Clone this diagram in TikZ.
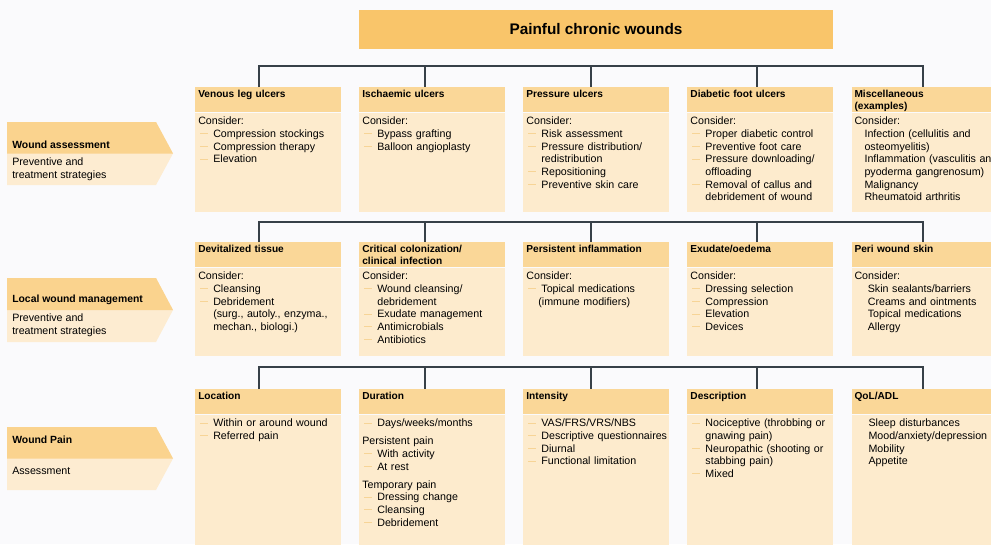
\documentclass[tikz,border=0pt]{standalone}
\usepackage{fontspec}
\setmainfont{Liberation Sans}
\usetikzlibrary{positioning}
\definecolor{titlec}{RGB}{249,197,106}
\definecolor{headc}{RGB}{250,215,152}
\definecolor{bodyc}{RGB}{253,235,205}
\definecolor{arrhead}{RGB}{250,211,142}
\definecolor{arrbody}{RGB}{253,236,209}
\definecolor{linec}{RGB}{55,64,72}
\definecolor{dashc}{RGB}{247,212,150}
\definecolor{bgc}{RGB}{250,250,252}
\newcommand{\witem}[1]{\makebox[11.25pt][l]{\hspace{1.5pt}\textcolor{dashc}{\rule[2.4pt]{6pt}{0.6pt}}}\mbox{#1}}
\newcommand{\wcont}[1]{\hspace*{11.25pt}\mbox{#1}}

\begin{document}
\begin{tikzpicture}[x=0.75pt,y=-0.75pt]
 \tikzset{
   ttl/.style={fill=titlec, minimum width=355.5pt, minimum height=29.25pt,
               inner sep=0pt, font=\bfseries\fontsize{11.5}{13}\selectfont},
   hd/.style={fill=headc, inner xsep=2.25pt, inner ysep=1.5pt, text width=105pt,
              text height=6pt, text depth=9.75pt, align=left,
              font=\bfseries\fontsize{7.6}{8.8}\selectfont},
   bd/.style={fill=bodyc, inner xsep=2.25pt, inner ysep=2pt, text width=105pt,
              text height=7pt, text depth=#1, align=left,
              font=\fontsize{8}{9.5}\selectfont},
   conn/.style={draw=linec, line width=1.2pt},
   arrtitle/.style={anchor=west, inner sep=0pt, font=\bfseries\fontsize{7.8}{9}\selectfont},
   arrtext/.style={anchor=north west, inner sep=0pt, align=left,
                   font=\fontsize{8}{9.75}\selectfont}
 }
 \useasboundingbox (0,0) rectangle (991,544);
 \fill[bgc] (0,0) rectangle (991,544);

 % title
 \node[ttl] (pcw) at (596,29.5) {Painful chronic wounds};

 % left arrows
 \foreach \yt/\yb in {122/185, 278/342, 427/490} {
   \fill[arrbody] (7,\yt) -- (156,\yt) -- (173,{(\yt+\yb)/2}) -- (156,\yb) -- (7,\yb) -- cycle;
   \fill[arrhead] (7,\yt) -- (156,\yt) -- (173,{(\yt+\yb)/2}) -- (7,{(\yt+\yb)/2}) -- cycle;
 }
 \node[arrtitle] (wass) at (12,145) {Wound assessment};
 \node[arrtext] (wasst) at (12,157.7) {Preventive and\\treatment strategies};
 \node[arrtitle] (lwm) at (12,300) {Local wound management};
 \node[arrtext] (lwmt) at (12,313.7) {Preventive and\\treatment strategies};
 \node[arrtitle] (wpn) at (12,440) {Wound Pain};
 \node[arrtext] (wpnt) at (12,466.7) {Assessment};

 % row 1: wound assessment
 \node[hd, anchor=north west] (vlu) at (195,87) {Venous leg ulcers};
 \node[hd, right=13.15pt of vlu] (isu) {Ischaemic ulcers};
 \node[hd, right=13.15pt of isu] (pru) {Pressure ulcers};
 \node[hd, right=13.15pt of pru] (dfu) {Diabetic foot ulcers};
 \node[hd, right=13.15pt of dfu] (msc) {Miscellaneous\\(examples)};
 \node[bd=63.25pt, below=0pt of vlu] (vlub) {Consider:\\
   \witem{Compression stockings}\\ \witem{Compression therapy}\\ \witem{Elevation}};
 \node[bd=63.25pt, below=0pt of isu] (isub) {Consider:\\
   \witem{Bypass grafting}\\ \witem{Balloon angioplasty}};
 \node[bd=63.25pt, below=0pt of pru] (prub) {Consider:\\
   \witem{Risk assessment}\\ \witem{Pressure distribution/}\\ \wcont{redistribution}\\
   \witem{Repositioning}\\ \witem{Preventive skin care}};
 \node[bd=63.25pt, below=0pt of dfu] (dfub) {Consider:\\
   \witem{Proper diabetic control}\\ \witem{Preventive foot care}\\
   \witem{Pressure downloading/}\\ \wcont{offloading}\\
   \witem{Removal of callus and}\\ \wcont{debridement of wound}};
 \node[bd=63.25pt, text width=125pt, below=0pt of msc.south west, anchor=north west] (mscb) {Consider:\\
   \hspace*{7.5pt}Infection (cellulitis and\\ \hspace*{7.5pt}osteomyelitis)\\
   \hspace*{7.5pt}Inflammation (vasculitis and\\ \hspace*{7.5pt}pyoderma gangrenosum)\\
   \hspace*{7.5pt}Malignancy\\ \hspace*{7.5pt}Rheumatoid arthritis};

 % row 2: local wound management
 \node[hd, anchor=north west] (dvt) at (195,242) {Devitalized tissue};
 \node[hd, right=13.15pt of dvt] (ccl) {Critical colonization/\\clinical infection};
 \node[hd, right=13.15pt of ccl] (pin) {Persistent inflammation};
 \node[hd, right=13.15pt of pin] (exo) {Exudate/oedema};
 \node[hd, right=13.15pt of exo] (pws) {Peri wound skin};
 \node[bd=55pt, below=0pt of dvt] (dvtb) {Consider:\\
   \witem{Cleansing}\\ \witem{Debridement}\\
   \wcont{(surg., autoly., enzyma.,}\\ \wcont{mechan., biologi.)}};
 \node[bd=55pt, below=0pt of ccl] (cclb) {Consider:\\
   \witem{Wound cleansing/}\\ \wcont{debridement}\\ \witem{Exudate management}\\
   \witem{Antimicrobials}\\ \witem{Antibiotics}};
 \node[bd=55pt, below=0pt of pin] (pinb) {Consider:\\
   \witem{Topical medications}\\ \hspace*{9pt}(immune modifiers)};
 \node[bd=55pt, below=0pt of exo] (exob) {Consider:\\
   \witem{Dressing selection}\\ \witem{Compression}\\ \witem{Elevation}\\ \witem{Devices}};
 \node[bd=55pt, text width=125pt, below=0pt of pws.south west, anchor=north west] (pwsb) {Consider:\\
   \hspace*{10pt}Skin sealants/barriers\\ \hspace*{10pt}Creams and ointments\\
   \hspace*{10pt}Topical medications\\ \hspace*{10pt}Allergy};

 % row 3: wound pain
 \node[hd, anchor=north west] (loc) at (195,389) {Location};
 \node[hd, right=13.15pt of loc] (dur) {Duration};
 \node[hd, right=13.15pt of dur] (ins) {Intensity};
 \node[hd, right=13.15pt of ins] (dsc) {Description};
 \node[hd, right=13.15pt of dsc] (qol) {QoL/ADL};
 \node[bd=98.5pt, below=0pt of loc] (locb) {%
   \witem{Within or around wound}\\ \witem{Referred pain}};
 \node[bd=98.5pt, below=0pt of dur] (durb) {%
   \witem{Days/weeks/months}\\[4pt] Persistent pain\\
   \witem{With activity}\\ \witem{At rest}\\[4pt] Temporary pain\\
   \witem{Dressing change}\\ \witem{Cleansing}\\ \witem{Debridement}};
 \node[bd=98.5pt, below=0pt of ins] (insb) {%
   \witem{VAS/FRS/VRS/NBS}\\ \witem{Descriptive questionnaires}\\
   \witem{Diurnal}\\ \witem{Functional limitation}};
 \node[bd=98.5pt, below=0pt of dsc] (dscb) {%
   \witem{Nociceptive (throbbing or}\\ \wcont{gnawing pain)}\\
   \witem{Neuropathic (shooting or}\\ \wcont{stabbing pain)}\\ \witem{Mixed}};
 \node[bd=98.5pt, text width=125pt, below=0pt of qol.south west, anchor=north west] (qolb) {%
   \hspace*{10.5pt}Sleep disturbances\\ \hspace*{10.5pt}Mood/anxiety/depression\\
   \hspace*{10.5pt}Mobility\\ \hspace*{10.5pt}Appetite};

 % connectors
 \foreach \r/\y/\a/\b/\c/\d/\e in {1/66/vlu/isu/pru/dfu/msc, 2/222/dvt/ccl/pin/exo/pws,
                                  3/367/loc/dur/ins/dsc/qol} {
   \foreach \n [count=\i] in {\a,\b,\c,\d,\e}
     \coordinate (bus\r-\i) at ({259+166*(\i-1)},\y);
   \draw[conn] (bus\r-1 |- \a.north) -- (bus\r-1) -- (bus\r-5) -- (bus\r-5 |- \e.north);
   \draw[conn] (bus\r-2) -- (bus\r-2 |- \b.north);
   \draw[conn] (bus\r-3) -- (bus\r-3 |- \c.north);
   \draw[conn] (bus\r-4) -- (bus\r-4 |- \d.north);
 }
\end{tikzpicture}
\end{document}
